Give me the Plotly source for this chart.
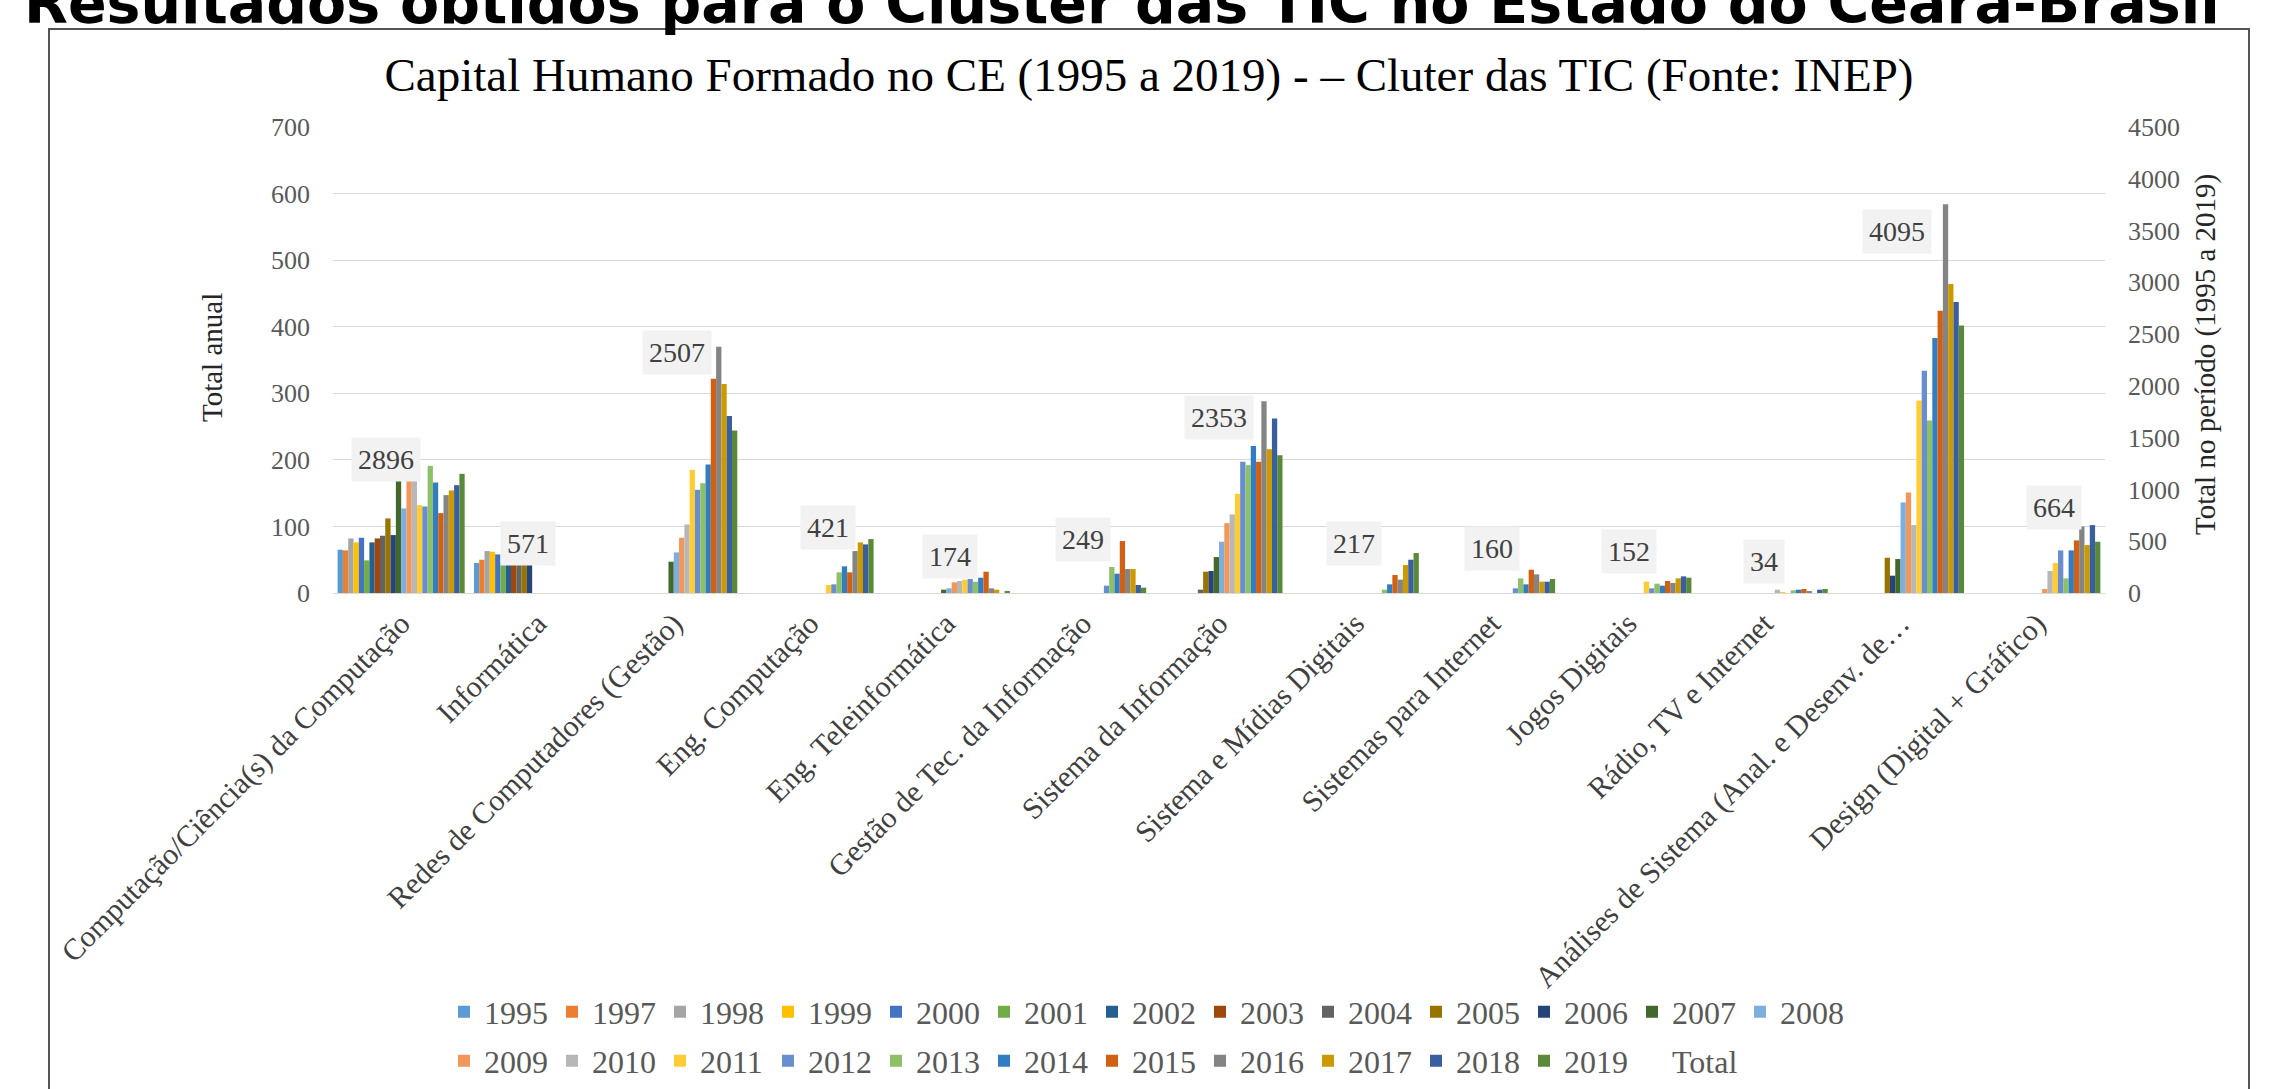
import plotly.graph_objects as go

# ---------------- data ----------------
categories = [
    "Computação/Ciência(s) da Computação", "Informática", "Redes de Computadores (Gestão)",
    "Eng. Computação", "Eng. Teleinformática", "Gestão de Tec. da Informação",
    "Sistema da Informação", "Sistema e Mídias Digitais", "Sistemas para Internet",
    "Jogos Digitais", "Rádio, TV e Internet", "Análises de Sistema (Anal. e Desenv. de…",
    "Design (Digital + Gráfico)",
]

years = ["1995", "1997", "1998", "1999", "2000", "2001", "2002", "2003", "2004", "2005",
         "2006", "2007", "2008", "2009", "2010", "2011", "2012", "2013", "2014", "2015",
         "2016", "2017", "2018", "2019"]

# graduates per year (same order as `years`) for each course
computacao = [65, 64, 82, 76, 83, 49, 76, 82, 86, 112, 87, 177, 127, 178, 169, 132, 130, 191, 166, 120, 147, 154, 162, 179]
informatica = [45, 50, 63, 62, 58, 45, 51, 51, 51, 50, 46, 0, 0, 0, 0, 0, 0, 0, 0, 0, 0, 0, 0, 0]
redes = [0, 0, 0, 0, 0, 0, 0, 0, 0, 0, 0, 47, 61, 83, 103, 185, 155, 165, 193, 322, 370, 314, 266, 244]
eng_computacao = [0, 0, 0, 0, 0, 0, 0, 0, 0, 0, 0, 0, 0, 0, 0, 12, 13, 31, 40, 31, 63, 76, 73, 81]
eng_teleinformatica = [0, 0, 0, 0, 0, 0, 0, 0, 0, 0, 0, 5, 7, 16, 18, 20, 21, 17, 23, 32, 7, 5, 0, 2]
gestao_ti = [0, 0, 0, 0, 0, 0, 0, 0, 0, 0, 0, 0, 0, 0, 0, 0, 11, 39, 29, 78, 36, 36, 12, 8]
sistema_informacao = [0, 0, 0, 0, 0, 0, 0, 0, 5, 32, 33, 54, 77, 105, 118, 149, 197, 192, 221, 197, 288, 216, 262, 207]
midias_digitais = [0, 0, 0, 0, 0, 0, 0, 0, 0, 0, 0, 0, 0, 0, 0, 0, 0, 5, 13, 27, 20, 42, 50, 60]
sistemas_internet = [0, 0, 0, 0, 0, 0, 0, 0, 0, 0, 0, 0, 0, 0, 0, 0, 7, 22, 13, 35, 28, 17, 17, 21]
jogos_digitais = [0, 0, 0, 0, 0, 0, 0, 0, 0, 0, 0, 0, 0, 0, 0, 17, 7, 14, 11, 18, 15, 22, 25, 23]
radio_tv_internet = [0, 0, 0, 0, 0, 0, 0, 0, 0, 0, 0, 0, 0, 0, 5, 1, 0, 4, 5, 6, 2, 0, 5, 6]
analises_sistema = [0, 0, 0, 0, 0, 0, 0, 0, 0, 53, 26, 51, 136, 151, 102, 289, 334, 259, 383, 424, 584, 464, 437, 402]
design = [0, 0, 0, 0, 0, 0, 0, 0, 0, 0, 0, 0, 0, 6, 33, 45, 64, 22, 64, 79, 100, 72, 102, 77]

totals = [2896, 571, 2507, 421, 174, 249, 2353, 217, 160, 152, 34, 4095, 664]

courses = [computacao, informatica, redes, eng_computacao, eng_teleinformatica, gestao_ti,
           sistema_informacao, midias_digitais, sistemas_internet, jogos_digitais,
           radio_tv_internet, analises_sistema, design]

# ---------------- style ----------------
colors = ["#5B9BD5", "#ED7D31", "#A5A5A5", "#FFC000", "#4472C4", "#70AD47", "#255E91", "#9E480E",
          "#636363", "#997300", "#264478", "#43682B", "#7CAFDD", "#F1975A", "#B7B7B7", "#FFCD33",
          "#698ED0", "#8CC168", "#327DC2", "#D26012", "#848484", "#CC9A00", "#3A5FA0", "#5A8A39"]

# where the total labels sit (primary-axis units) and their horizontal nudge (px)
label_y = [201, 75, 361, 98, 55, 81, 263, 75, 67, 63, 47, 543, 129]
label_dx = [-15, -9, 3, 18, 4, 0, 0, -1, 0, 1, 0, -4, 17]

SERIF = "Liberation Serif"
W, H = 2273, 1089
ML, MR, MT, MB = 333, 168, 127, 496
PW, PH = W - ML - MR, H - MT - MB


def px_x(p):
    return (p - ML) / PW


def px_y(p):
    return (H - MB - p) / PH


fig = go.Figure()
for j, yr in enumerate(years):
    fig.add_trace(go.Bar(
        x=categories, y=[c[j] for c in courses], name=yr,
        marker=dict(color=colors[j], line=dict(width=0)),
        legend="legend" if j < 13 else "legend2",
    ))

fig.add_trace(go.Scatter(
    x=categories, y=totals, yaxis="y2", name="Total", mode="lines",
    line=dict(width=0, color="rgba(0,0,0,0)"), legend="legend2",
))

annotations = []
for i, t in enumerate(totals):
    annotations.append(dict(
        x=categories[i], y=label_y[i], xref="x", yref="y", text=str(t), showarrow=False,
        xshift=label_dx[i], bgcolor="#F2F2F2", borderpad=6,
        font=dict(family=SERIF, size=28, color="#404040"),
    ))

annotations.append(dict(
    x=px_x(212), y=px_y(358), xref="paper", yref="paper", text="Total anual", textangle=-90,
    xanchor="center", yanchor="middle",
    showarrow=False, font=dict(family=SERIF, size=29, color="#262626"),
))
annotations.append(dict(
    x=px_x(2205), y=px_y(355), xref="paper", yref="paper", text="Total no período (1995 a 2019)",
    textangle=-90, xanchor="center", yanchor="middle",
    showarrow=False, font=dict(family=SERIF, size=29, color="#262626"),
))
annotations.append(dict(
    x=px_x(1122), y=px_y(3), xref="paper", yref="paper",
    text="<b>Resultados obtidos para o Cluster das TIC no Estado do Ceará-Brasil</b>",
    showarrow=False, xanchor="center", yanchor="middle",
    font=dict(family="DejaVu Sans", size=57, color="#000000"),
))

fig.update_layout(
    width=W, height=H, autosize=False,
    margin=dict(l=ML, r=MR, t=MT, b=MB, pad=0, autoexpand=False),
    paper_bgcolor="white", plot_bgcolor="white",
    font=dict(family=SERIF, size=26, color="#595959"),
    barmode="group", bargap=0.068, bargroupgap=0,
    title=dict(
        text="Capital Humano Formado no CE (1995 a 2019) - – Cluter das TIC (Fonte: INEP)",
        x=1149 / W, y=1 - 75 / H, xref="container", yref="container",
        xanchor="center", yanchor="middle",
        font=dict(family=SERIF, size=47, color="#000000"),
    ),
    xaxis=dict(
        type="category", tickangle=-45, showgrid=False, showline=False, zeroline=False,
        ticks="", tickfont=dict(family=SERIF, size=30, color="#404040"),
        ticklabelstandoff=6, automargin=False,
    ),
    yaxis=dict(
        range=[0, 700], dtick=100, showgrid=True, gridcolor="#D9D9D9", gridwidth=1.3,
        zeroline=True, zerolinecolor="#D9D9D9", zerolinewidth=1.3,
        showline=False, ticks="", tickfont=dict(family=SERIF, size=26, color="#595959"),
        ticklabelstandoff=22, automargin=False,
    ),
    yaxis2=dict(
        range=[0, 4500], dtick=500, overlaying="y", side="right", showgrid=False,
        zeroline=False, showline=False, ticks="",
        tickfont=dict(family=SERIF, size=26, color="#595959"), ticklabelstandoff=22,
        automargin=False,
    ),
    legend=dict(
        orientation="h", xref="container", yref="container",
        x=444 / W, y=1 - 1012 / H, xanchor="left", yanchor="middle",
        entrywidth=63, traceorder="normal", bgcolor="rgba(0,0,0,0)",
        font=dict(family=SERIF, size=32, color="#595959"),
    ),
    legend2=dict(
        orientation="h", xref="container", yref="container",
        x=444 / W, y=1 - 1061 / H, xanchor="left", yanchor="middle",
        entrywidth=63, traceorder="normal", bgcolor="rgba(0,0,0,0)",
        font=dict(family=SERIF, size=32, color="#595959"),
    ),
    annotations=annotations,
    shapes=[dict(
        type="rect", xref="paper", yref="paper",
        x0=px_x(49), x1=px_x(2249), y0=px_y(1120), y1=px_y(29),
        line=dict(color="#555555", width=2), fillcolor="rgba(0,0,0,0)", layer="below",
    )],
)

fig.write_html(
    "out.html",
    config={"displayModeBar": False},
    post_script="document.body.style.margin='0';document.body.style.overflow='hidden';",
)
